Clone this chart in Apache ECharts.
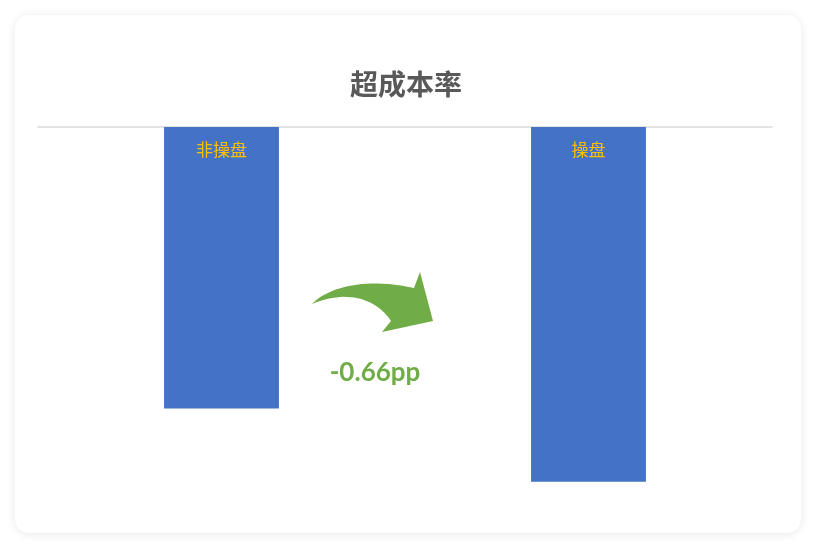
<!DOCTYPE html>
<html><head><meta charset="utf-8">
<script src="https://cdn.jsdelivr.net/npm/echarts@6/dist/echarts.min.js"></script>
<style>
html,body{margin:0;padding:0;background:#fff;width:816px;height:548px;overflow:hidden;}
#card{position:absolute;left:15px;top:15px;width:786px;height:518px;background:#fff;border-radius:14px;box-shadow:0 1px 10px rgba(0,0,0,0.10);}
#chart{position:absolute;left:0;top:0;width:816px;height:548px;}
</style></head>
<body><div id="card"></div><div id="chart"></div>
<script>
const titleText = '超成本率';
const categories = ['非操盘', '操盘'];
const values = [-2.54, -3.20];
const diffLabel = '-0.66pp';

function cubic(p0, p1, p2, p3, n) {
  const pts = [];
  for (let i = 0; i <= n; i++) {
    const t = i / n, u = 1 - t;
    pts.push([
      u*u*u*p0[0] + 3*u*u*t*p1[0] + 3*u*t*t*p2[0] + t*t*t*p3[0],
      u*u*u*p0[1] + 3*u*u*t*p1[1] + 3*u*t*t*p2[1] + t*t*t*p3[1]
    ]);
  }
  return pts;
}
const arrowPts = [].concat(
  cubic([312,304],[325,290],[360,276],[414,288], 24),
  [[420,272],[433,321],[382,332]],
  cubic([391,321],[375,297],[345,290],[312,304], 24)
);

const chart = echarts.init(document.getElementById('chart'));
chart.setOption({
  backgroundColor: 'transparent',
  animation: false,
  title: {
    text: titleText, left: 345, top: 65,
    textStyle: {fontFamily: 'Noto Sans CJK SC', fontSize: 28, fontWeight: 'bold', color: '#595959'}
  },
  grid: {left: 38, right: 44, top: 127, bottom: 33},
  xAxis: {
    type: 'category', data: categories,
    axisLine: {onZero: true, lineStyle: {color: '#D9D9D9', width: 1.5}},
    axisTick: {show: false}, axisLabel: {show: false}
  },
  yAxis: {
    type: 'value', min: -3.5, max: 0,
    show: false, splitLine: {show: false}
  },
  series: [{
    type: 'bar', data: values, barWidth: '31.3%',
    itemStyle: {color: '#4472C4'},
    label: {
      show: true, position: 'insideTop', distance: 14,
      formatter: p => p.name,
      color: '#FFC000', fontSize: 17, fontWeight: 'normal', fontFamily: 'Noto Sans CJK SC'
    }
  }],
  graphic: [
    {
      type: 'polygon',
      shape: {points: arrowPts},
      style: {fill: '#70AD47'}
    },
    {
      type: 'text', x: 375, y: 373,
      style: {text: diffLabel, fill: '#70AD47', font: 'bold 26px Lato', align: 'center', verticalAlign: 'middle'}
    }
  ]
});
</script></body></html>
